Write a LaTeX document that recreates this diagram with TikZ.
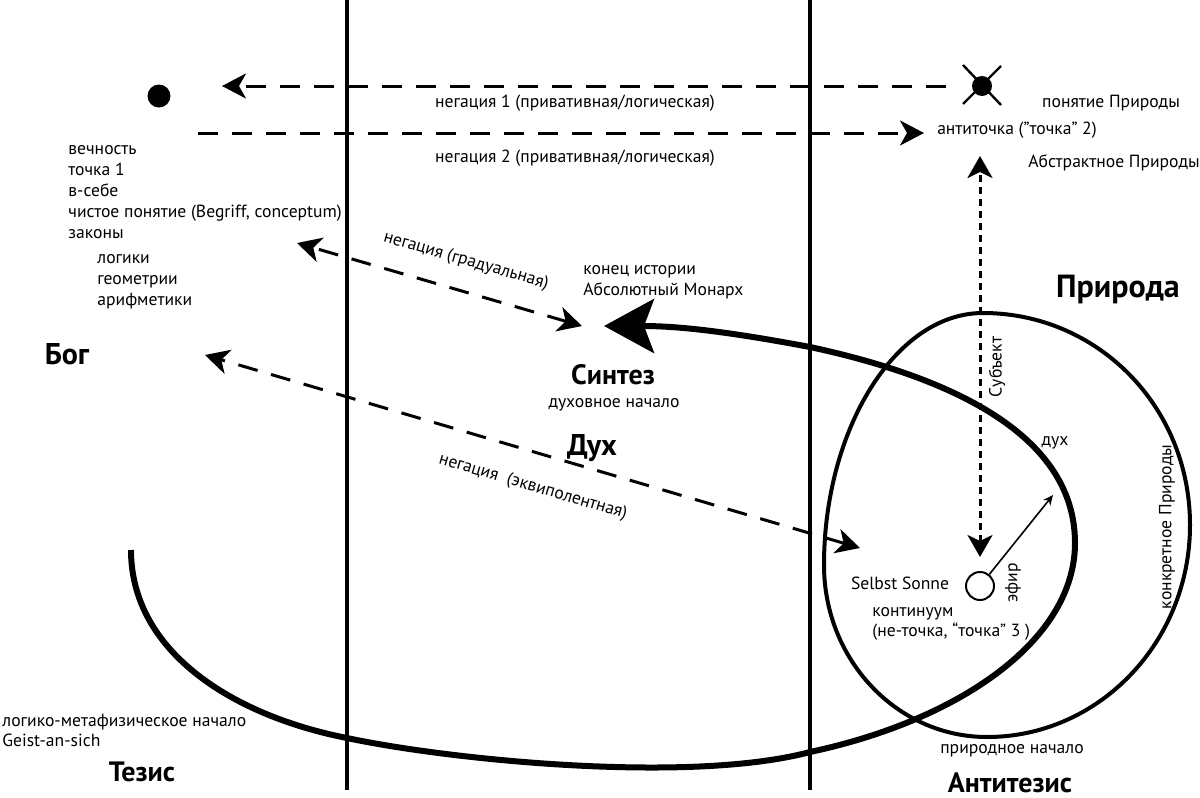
\documentclass[tikz,border=0pt]{standalone}
\usepackage{fontspec}
\setmainfont{PT Sans}
\usetikzlibrary{arrows.meta, positioning}
\tikzset{
    txt/.style={inner sep=0pt, font=\fontsize{8.8}{10}\selectfont},
    title/.style={inner sep=0pt, font=\fontsize{14}{16}\selectfont\bfseries},
    border/.style={line width=2pt},
    negation/.style={line width=1.5pt, dash pattern=on 10pt off 7pt, -{Stealth[length=12pt, width=12.5pt, inset=3.5pt]}},
    negboth/.style={line width=1.5pt, dash pattern=on 10pt off 7pt, {Stealth[length=12pt, width=12.5pt, inset=3.5pt]}-{Stealth[length=12pt, width=12.5pt, inset=3.5pt]}},
    subject/.style={line width=1.5pt, dash pattern=on 3.5pt off 2.5pt, {Stealth[length=11pt, width=12.5pt, inset=3pt]}-{Stealth[length=11pt, width=12.5pt, inset=3pt]}},
    spiral/.style={line width=3pt, -{Stealth[length=25pt, width=27pt, inset=5pt]}},
    ether/.style={line width=0.8pt, -{Stealth[length=5pt, width=4.5pt]}}
}

\begin{document}
\begin{tikzpicture}[x=0.5pt, y=-0.5pt]
    \useasboundingbox (0,0) rectangle (1200,798);

    % the two borders
    \draw[border] (347,0) -- (347,790);
    \draw[border] (810,0) -- (810,790);

    % Nature
    \draw[border] (983,313) .. controls (1097,313) and (1190,406) .. (1190,525)
        .. controls (1190,642) and (1099,737) .. (987,737)
        .. controls (897,737) and (824,660) .. (824,565)
        .. controls (824,430) and (895,313) .. (983,313) -- cycle;

    % the spiral of the spirit
    \draw[spiral] (131,550) .. controls (131,650) and (230,715) .. (347,738)
        .. controls (450,760) and (690,784) .. (810,752)
        .. controls (960,720) and (1075,640) .. (1075,543)
        .. controls (1075,430) and (940,375) .. (810,347)
        .. controls (730,332) and (680,326) .. (604,326);

    % points
    \node[circle, fill, inner sep=0pt, minimum size=11.5pt] (point1) at (159,96) {};
    \node[circle, fill, inner sep=0pt, minimum size=10pt] (antipoint) at (982,86) {};
    \draw[line width=1.2pt] (963,65) -- (1001,105) (1001,66) -- (963,104);
    \node[circle, draw, line width=1pt, inner sep=0pt, minimum size=14pt] (sun) at (980,586) {};

    \coordinate (n1s) at (946,86);
    \coordinate (n1e) at (222,86);
    \coordinate (n2s) at (198,133);
    \coordinate (n2e) at (924,133);
    \coordinate (grads) at (297,243);
    \coordinate (grade) at (582,326);
    \coordinate (equis) at (205,355);
    \coordinate (equie) at (860,548);
    \coordinate (subjs) at (980,156);
    \coordinate (subje) at (980,557);
    \coordinate (etherEnd) at (1053,495);

    % negations
    \draw[negation] (n1s) -- (n1e);
    \draw[negation] (n2s) -- (n2e);
    \draw[negboth] (grade) -- (grads);
    \draw[negboth] (equie) -- (equis);
    \draw[subject] (subje) -- (subjs);
    \draw[ether] (sun) -- (etherEnd);

    % left column
    \foreach \line [count=\i] in {вечность, точка 1, в-себе, {чистое понятие (Begriff, conceptum)}, законы}
        \node[txt, anchor=base west] (god\i) at (68, 133+21*\i) {\line};
    \foreach \line [count=\i] in {логики, геометрии, арифметики}
        \node[txt, anchor=base west] (law\i) at (97, 242+21*\i) {\line};

    \node[txt] (neg1) at (575,103) {негация 1 (привативная/логическая)};
    \node[txt] (neg2) at (575,158) {негация 2 (привативная/логическая)};
    \node[txt] (concept) at (1111,103) {понятие Природы};
    \node[txt] (anti) at (1017,130) {антиточка (”точка” 2)};
    \node[txt] (abstr) at (1114,163) {Абстрактное Природы};
    \node[txt, rotate=-16] (grad) at (466,261) {негация (градуальная)};
    \node[txt, anchor=base west] (end1) at (583,274) {конец истории};
    \node[txt, anchor=base west] (end2) at (583,295) {Абсолютный Монарх};
    \node[title] (synth) at (613,375) {Синтез};
    \node[txt] (spirit0) at (614,405) {духовное начало};
    \node[title, font=\fontsize{15}{17}\selectfont\bfseries] (dukh) at (592,448) {Дух};
    \node[txt, rotate=-16.4] (equi) at (533,487) {негация\ \ (эквиполентная)};
    \node[title, font=\fontsize{15}{17}\selectfont\bfseries] (bog) at (67,354) {Бог};
    \node[title, font=\fontsize{16}{18}\selectfont\bfseries] (nature) at (1118,289) {Природа};
    \node[txt, rotate=90] (subj) at (997,367) {Субъект};
    \node[txt] (dukh2) at (1055,443) {дух};
    \node[txt, rotate=90] (concr) at (1167,527) {конкретное Природы};
    \node[txt] (selbst) at (900,583) {Selbst Sonne};
    \node[txt, rotate=90] (eth) at (1013,583) {эфир};
    \node[txt, anchor=base west] (cont1) at (872,616) {континуум};
    \node[txt, anchor=base west] (cont2) at (872,636) {(не-точка, “точка” 3 )};
    \node[txt] (natstart) at (1012,751) {природное начало};
    \node[title] (antith) at (1010,783) {Антитезис};
    \node[txt, anchor=base west] (logic1) at (2,726) {логико-метафизическое начало};
    \node[txt, anchor=base west] (logic2) at (2,746) {Geist-an-sich};
    \node[title] (thesis) at (142,772) {Тезис};
\end{tikzpicture}
\end{document}
